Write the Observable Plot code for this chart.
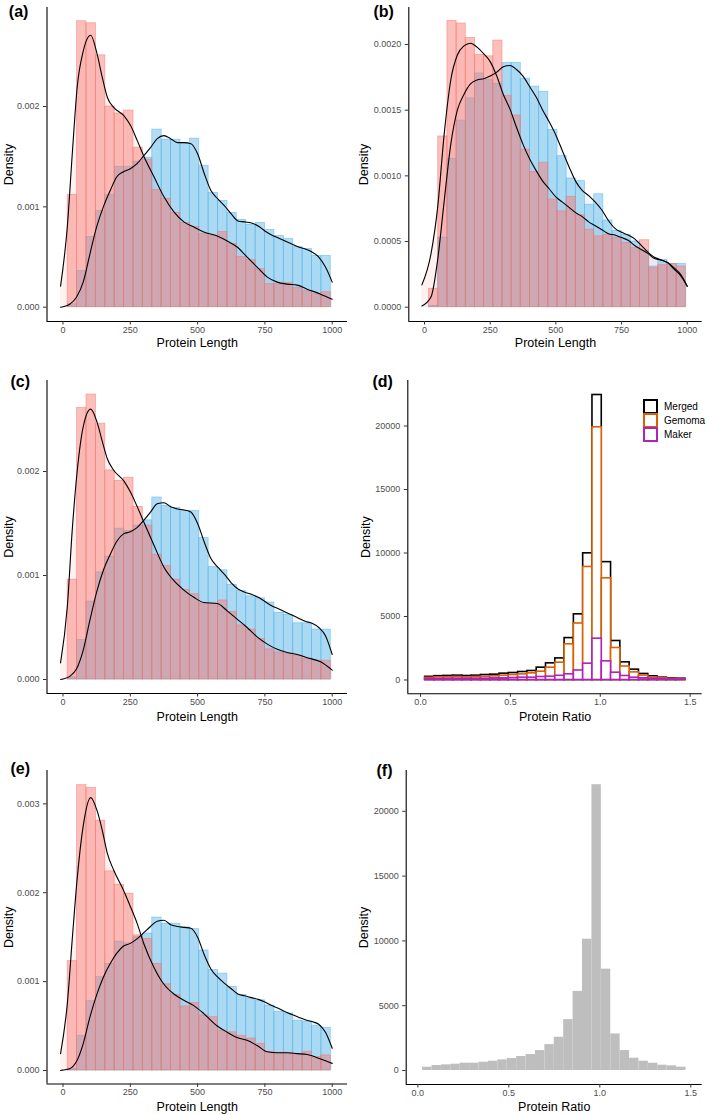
<!DOCTYPE html>
<html><head><meta charset="utf-8">
<script src="https://cdn.jsdelivr.net/npm/d3@7"></script>
<script src="https://cdn.jsdelivr.net/npm/@observablehq/plot@0.6"></script>
<style>
body{margin:0;background:#fff;}
#root{position:relative;width:709px;height:1115px;overflow:hidden;font-family:"Liberation Sans",Arial,Helvetica,sans-serif;}
.panel{position:absolute;}
.legend{position:absolute;left:643px;top:399px;font-size:10px;color:#000;}
.legend .item{display:flex;align-items:center;height:14.3px;}
.legend .key{width:11px;height:11px;border:2px solid;background:#fff;margin-right:6px;box-sizing:content-box;}
</style></head><body><div id="root"></div>
<script>
// ---------- data ----------
const lengthTicks = [0, 250, 500, 750, 1000];
const ratioTicks = [0, 0.5, 1.0, 1.5];
const countTicks = [0, 5000, 10000, 15000, 20000];
const lengthBinStart = 17.5, lengthBinWidth = 34.9;
const ratioBinStart = 0.026, ratioBinWidth = 0.0517;

const redCurveX = [-9,16,35,53,75,103,127,146,165,189,226,251,276,301,338,375,412,449,486,523,573,610,647,684,721,759,796,833,870,907,957,1000];
const blueCurveX = [-9,0,25,50,75,100,125,150,175,200,225,250,275,300,325,350,375,400,425,450,475,500,525,550,575,600,625,650,675,700,725,750,775,800,825,850,875,900,925,950,975,1000];
const bCurveX = [-10,25,50,75,100,125,150,175,200,225,250,275,300,325,350,375,400,425,450,475,500,525,550,575,600,625,650,675,700,725,750,775,800,825,850,875,900,925,950,975,1000];

// panel (a)
const aRed  = [0.00112,0.00285,0.00283,0.00251,0.00200,0.00193,0.00196,0.00159,0.00147,0.00117,0.00108,0.00094,0.00084,0.00080,0.00073,0.00071,0.00075,0.00063,0.00050,0.00047,0.00038,0.00023,0.00023,0.00024,0.00019,0.00016,0.00013,0.00015];
const aBlue = [0.00003,0.00036,0.00070,0.00096,0.00112,0.00140,0.00140,0.00145,0.00149,0.00177,0.00167,0.00167,0.00163,0.00168,0.00141,0.00114,0.00106,0.00094,0.00087,0.00082,0.00084,0.00077,0.00071,0.00068,0.00060,0.00058,0.00051,0.00051];
const aRedCurve  = [0.00021,0.00080,0.00155,0.00220,0.00255,0.00271,0.00252,0.00229,0.00209,0.00199,0.00191,0.00181,0.00166,0.00150,0.00130,0.00110,0.00095,0.00085,0.00080,0.00075,0.00071,0.00066,0.00060,0.00050,0.00040,0.00030,0.00025,0.00023,0.00022,0.00018,0.00013,0.00008];
const aBlueCurve = [0,0.000005,0.00003,0.00010,0.00025,0.00053,0.00080,0.00100,0.00116,0.00130,0.00135,0.00138,0.00143,0.00151,0.00159,0.00168,0.00171,0.00168,0.00164,0.00164,0.00163,0.00153,0.00133,0.00116,0.00108,0.00101,0.00093,0.00086,0.00085,0.00084,0.00081,0.00076,0.00072,0.00069,0.00066,0.00063,0.00060,0.00058,0.00055,0.00050,0.00040,0.00025];

// panel (b)
const bRed  = [0.00014,0.00130,0.00218,0.00216,0.00205,0.00192,0.00191,0.00203,0.00161,0.00146,0.00120,0.00103,0.00110,0.00082,0.00073,0.00084,0.00070,0.00059,0.00054,0.00055,0.00053,0.00049,0.00045,0.00051,0.00030,0.00032,0.00033,0.00031];
const bBlue = [0.00001,0.00053,0.00113,0.00142,0.00159,0.00178,0.00173,0.00170,0.00186,0.00186,0.00174,0.00168,0.00164,0.00135,0.00115,0.00098,0.00096,0.00078,0.00086,0.00066,0.00058,0.00055,0.00050,0.00043,0.00031,0.00036,0.00033,0.00033];
const bRedCurve  = [0.00017,0.00041,0.00076,0.00132,0.00173,0.00192,0.00199,0.00201,0.00198,0.00193,0.00187,0.00176,0.00162,0.00151,0.00137,0.00124,0.00113,0.00104,0.00096,0.00090,0.00084,0.00080,0.00076,0.00072,0.00069,0.00065,0.00062,0.00059,0.00056,0.00055,0.00053,0.00051,0.00047,0.00044,0.00041,0.00037,0.00036,0.00034,0.00029,0.00024,0.00016];
const bBlueCurve = [0.00001,0.00008,0.00036,0.00081,0.00124,0.00150,0.00162,0.00170,0.00173,0.00174,0.00176,0.00179,0.00183,0.00184,0.00181,0.00176,0.00168,0.00160,0.00150,0.00141,0.00131,0.00119,0.00107,0.00096,0.00089,0.00085,0.00080,0.00074,0.00066,0.00060,0.00057,0.00055,0.00052,0.00047,0.00042,0.00038,0.00036,0.00034,0.00030,0.00025,0.00016];

// panel (c)
const cRed  = [0.00096,0.00261,0.00274,0.00246,0.00201,0.00191,0.00194,0.00166,0.00148,0.00120,0.00109,0.00096,0.00086,0.00082,0.00073,0.00073,0.00076,0.00065,0.00052,0.00048,0.00039,0.00029,0.00026,0.00025,0.00023,0.00020,0.00018,0.00018];
const cBlue = [0.00002,0.00038,0.00075,0.00103,0.00118,0.00145,0.00143,0.00148,0.00153,0.00175,0.00167,0.00165,0.00162,0.00162,0.00136,0.00108,0.00105,0.00091,0.00085,0.00080,0.00078,0.00074,0.00064,0.00062,0.00054,0.00054,0.00048,0.00048];
const cRedCurve  = [0.00016,0.00070,0.00146,0.00201,0.00243,0.00260,0.00247,0.00229,0.00212,0.00201,0.00191,0.00180,0.00166,0.00151,0.00129,0.00108,0.00095,0.00086,0.00079,0.00074,0.00073,0.00066,0.00058,0.00050,0.00041,0.00034,0.00029,0.00026,0.00024,0.00021,0.00017,0.00009];
const cBlueCurve = [0,0.000005,0.00003,0.00010,0.00028,0.00057,0.00084,0.00105,0.00120,0.00133,0.00140,0.00142,0.00146,0.00153,0.00161,0.00169,0.00170,0.00166,0.00164,0.00163,0.00161,0.00150,0.00132,0.00116,0.00108,0.00101,0.00093,0.00087,0.00084,0.00082,0.00079,0.00075,0.00071,0.00068,0.00065,0.00062,0.00059,0.00056,0.00054,0.00050,0.00042,0.00024];

// panel (e)
const eRed  = [0.00123,0.00321,0.00318,0.00281,0.00224,0.00209,0.00199,0.00152,0.00148,0.00120,0.00097,0.00085,0.00072,0.00076,0.00062,0.00060,0.00045,0.00043,0.00039,0.00036,0.00030,0.00021,0.00020,0.00020,0.00018,0.00021,0.00015,0.00017];
const eBlue = [0.00002,0.00039,0.00078,0.00105,0.00120,0.00145,0.00143,0.00150,0.00154,0.00172,0.00165,0.00165,0.00161,0.00159,0.00135,0.00113,0.00109,0.00094,0.00085,0.00081,0.00079,0.00073,0.00066,0.00064,0.00056,0.00055,0.00050,0.00048];
const eRedCurve  = [0.00019,0.00075,0.00150,0.00217,0.00275,0.00307,0.00292,0.00270,0.00244,0.00225,0.00202,0.00184,0.00165,0.00142,0.00116,0.00097,0.00086,0.00079,0.00073,0.00064,0.00050,0.00043,0.00037,0.00034,0.00028,0.00021,0.00020,0.00020,0.00019,0.00018,0.00013,0.00008];
const eBlueCurve = [0,0.000005,0.00002,0.00010,0.00030,0.00060,0.00085,0.00105,0.00120,0.00132,0.00140,0.00143,0.00148,0.00155,0.00162,0.00168,0.00169,0.00164,0.00162,0.00161,0.00160,0.00150,0.00130,0.00114,0.00105,0.00098,0.00092,0.00086,0.00084,0.00082,0.00080,0.00077,0.00073,0.00070,0.00066,0.00063,0.00060,0.00057,0.00055,0.00052,0.00043,0.00025];

// panel (d)
const dSeries = ["Merged", "Gemoma", "Maker"];
const dMerged = [250,300,320,341,315,341,394,420,499,551,630,709,971,1312,1700,3300,5170,9974,22441,9280,3071,1390,815,475,290,184,131,105];
const dGemoma = [170,210,220,236,210,236,262,289,341,394,446,525,656,971,1363,2810,4450,8900,19900,8005,2520,1063,600,350,205,131,100,80];
const dMaker  = [80,90,100,105,105,105,105,131,131,157,184,184,236,262,330,448,750,1286,3253,1470,576,315,181,134,110,70,55,45];

// panel (f)
const fRatio = [256,385,436,487,564,564,641,718,821,923,1077,1231,1538,2000,2564,3923,6103,10128,22051,7821,2821,1538,949,718,564,410,359,256];

// ---------- styles ----------
const FONT = "'Liberation Sans', Arial, Helvetica, sans-serif";
const RED = "#F8766D", BLUE = "#56B4E9";
const SERIES_COLORS = ["#000000", "#D95F02", "#B022B8"];
const TICK_TEXT = "#4D4D4D";

const root = document.getElementById("root");

function bins(start, width, n) {
  return d3.range(n).map(i => ({x1: start + i * width, x2: start + (i + 1) * width}));
}

function frameMarks(cfg) {
  return [
    Plot.ruleY([cfg.yDomain[0]], {stroke: "black", strokeWidth: 1.1}),
    Plot.ruleX([cfg.xDomain[0]], {stroke: "black", strokeWidth: 1.1}),
    Plot.axisX({ticks: cfg.xTicks, tickFormat: cfg.xFormat, tickSize: 3.5, tickPadding: 1.5,
      stroke: "#333", fill: TICK_TEXT, fontSize: 9, label: null}),
    Plot.axisY({ticks: cfg.yTicks, tickFormat: cfg.yFormat, tickSize: 3.5, tickPadding: 4,
      stroke: "#333", fill: TICK_TEXT, fontSize: 9, label: null}),
    Plot.text([cfg.xTitle], {text: d => d, frameAnchor: "bottom", dy: cfg.titleDy, fontSize: 12.5,
      fill: "black", lineAnchor: "middle"}),
    Plot.text(["Density"], {text: d => d, frameAnchor: "left", dx: cfg.densityDx, rotate: -90,
      fontSize: 12.5, fill: "black", lineAnchor: "middle", textAnchor: "middle"}),
    Plot.text([cfg.tag], {text: d => d, frameAnchor: "top-left", dx: cfg.tagDx, dy: cfg.tagDy,
      fontSize: 16, fontWeight: "bold", fill: "black", textAnchor: "start", lineAnchor: "middle"})
  ];
}

function place(svg, left, top) {
  const div = document.createElement("div");
  div.className = "panel";
  div.style.left = left + "px";
  div.style.top = top + "px";
  div.appendChild(svg);
  root.appendChild(div);
}

function lengthPanel(cfg) {
  const b = bins(lengthBinStart, lengthBinWidth, cfg.red.length)
    .map((d, i) => ({...d, red: cfg.red[i], blue: cfg.blue[i]}));
  const rc = cfg.redCurveX.map((x, i) => ({x, y: cfg.redCurveY[i]}));
  const bc = cfg.blueCurveX.map((x, i) => ({x, y: cfg.blueCurveY[i]}));
  const svg = Plot.plot({
    width: cfg.width, height: cfg.height,
    marginLeft: cfg.ml, marginRight: cfg.mr, marginTop: cfg.mt, marginBottom: cfg.mb,
    style: {fontFamily: FONT, fontSize: "9px", background: "white", overflow: "visible"},
    x: {domain: cfg.xDomain},
    y: {domain: cfg.yDomain},
    marks: [
      Plot.areaY(bc, {x: "x", y1: 0, y2: "y", fill: BLUE, fillOpacity: 0.1, curve: "monotone-x"}),
      Plot.areaY(rc, {x: "x", y1: 0, y2: "y", fill: RED, fillOpacity: 0.1, curve: "monotone-x"}),
      Plot.rect(b, {x1: "x1", x2: "x2", y1: 0, y2: "blue", fill: BLUE, fillOpacity: 0.45,
        stroke: BLUE, strokeOpacity: 0.6, strokeWidth: 0.8}),
      Plot.rect(b, {x1: "x1", x2: "x2", y1: 0, y2: "red", fill: RED, fillOpacity: 0.46,
        stroke: RED, strokeOpacity: 0.6, strokeWidth: 0.8}),
      Plot.lineY(bc, {x: "x", y: "y", stroke: "black", strokeWidth: 1.1, curve: "monotone-x"}),
      Plot.lineY(rc, {x: "x", y: "y", stroke: "black", strokeWidth: 1.1, curve: "monotone-x"}),
      ...frameMarks({...cfg, xTicks: lengthTicks, xFormat: d3.format("d"), xTitle: "Protein Length"})
    ]
  });
  place(svg, cfg.left, cfg.top);
}

// (a)
lengthPanel({tag: "(a)", left: 0, top: 0, width: 354, height: 350, ml: 46.5, mr: 7, mt: 7, mb: 29,
  xDomain: [-59.4, 1056.8], yDomain: [-0.0001425, 0.002987], yTicks: [0, 0.001, 0.002], yFormat: d3.format(".3f"),
  red: aRed, blue: aBlue, redCurveX, redCurveY: aRedCurve, blueCurveX, blueCurveY: aBlueCurve,
  titleDy: 21.5, densityDx: -38.5, tagDx: -38.2, tagDy: 4.5});
// (b)
lengthPanel({tag: "(b)", left: 354, top: 0, width: 355, height: 350, ml: 54.3, mr: 7.3, mt: 7, mb: 29,
  xDomain: [-59.8, 1057], yDomain: [-0.0001089, 0.002282], yTicks: [0, 0.0005, 0.001, 0.0015, 0.002], yFormat: d3.format(".4f"),
  red: bRed, blue: bBlue, redCurveX: bCurveX, redCurveY: bRedCurve, blueCurveX: bCurveX, blueCurveY: bBlueCurve,
  titleDy: 21.5, densityDx: -44.8, tagDx: -35.3, tagDy: 4.7});
// (c)
lengthPanel({tag: "(c)", left: 0, top: 350, width: 354, height: 380, ml: 46.5, mr: 7, mt: 30, mb: 37,
  xDomain: [-59.4, 1056.8], yDomain: [-0.0001346, 0.002875], yTicks: [0, 0.001, 0.002], yFormat: d3.format(".3f"),
  red: cRed, blue: cBlue, redCurveX, redCurveY: cRedCurve, blueCurveX, blueCurveY: cBlueCurve,
  titleDy: 23.5, densityDx: -38.5, tagDx: -36.5, tagDy: 1.7});
// (e)
lengthPanel({tag: "(e)", left: 0, top: 730, width: 354, height: 385, ml: 46.5, mr: 7, mt: 40, mb: 31.5,
  xDomain: [-59.4, 1056.8], yDomain: [-0.000152, 0.003375], yTicks: [0, 0.001, 0.002, 0.003], yFormat: d3.format(".3f"),
  red: eRed, blue: eBlue, redCurveX, redCurveY: eRedCurve, blueCurveX, blueCurveY: eBlueCurve,
  titleDy: 23.2, densityDx: -38.5, tagDx: -36.5, tagDy: -2});

// (d)
{
  const b = bins(ratioBinStart, ratioBinWidth, dMerged.length)
    .map((d, i) => ({...d, merged: dMerged[i], gemoma: dGemoma[i], maker: dMaker[i]}));
  const cfg = {tag: "(d)", xDomain: [-0.0706, 1.567], yDomain: [-1087, 23583], yTicks: countTicks,
    yFormat: d3.format("d"), xTicks: ratioTicks, xFormat: d3.format(".1f"), xTitle: "Protein Ratio",
    titleDy: 23.2, densityDx: -42.3, tagDx: -35.3, tagDy: 1.7};
  const svg = Plot.plot({
    width: 355, height: 380, marginLeft: 53.3, marginRight: 7.3, marginTop: 30, marginBottom: 36.7,
    style: {fontFamily: FONT, fontSize: "9px", background: "white", overflow: "visible"},
    x: {domain: cfg.xDomain}, y: {domain: cfg.yDomain},
    marks: [
      Plot.rect(b, {x1: "x1", x2: "x2", y1: 0, y2: "merged", fill: "white", stroke: SERIES_COLORS[0], strokeWidth: 1.6}),
      Plot.rect(b, {x1: "x1", x2: "x2", y1: 0, y2: "gemoma", fill: "white", stroke: SERIES_COLORS[1], strokeWidth: 1.6}),
      Plot.rect(b, {x1: "x1", x2: "x2", y1: 0, y2: "maker", fill: "white", stroke: SERIES_COLORS[2], strokeWidth: 1.6}),
      ...frameMarks(cfg)
    ]
  });
  place(svg, 354, 350);
  const lg = document.createElement("div");
  lg.className = "legend";
  dSeries.forEach((name, i) => {
    const item = document.createElement("div");
    item.className = "item";
    const key = document.createElement("span");
    key.className = "key";
    key.style.borderColor = SERIES_COLORS[i];
    const lab = document.createElement("span");
    lab.textContent = name;
    item.appendChild(key); item.appendChild(lab);
    lg.appendChild(item);
  });
  root.appendChild(lg);
}

// (f)
{
  const b = bins(ratioBinStart, ratioBinWidth, fRatio.length).map((d, i) => ({...d, v: fRatio[i]}));
  const cfg = {tag: "(f)", xDomain: [-0.064, 1.5626], yDomain: [-1080, 23148], yTicks: countTicks,
    yFormat: d3.format("d"), xTicks: ratioTicks, xFormat: d3.format(".1f"), xTitle: "Protein Ratio",
    titleDy: 22.7, densityDx: -42.2, tagDx: -29.7, tagDy: 0};
  const svg = Plot.plot({
    width: 355, height: 385, marginLeft: 51.7, marginRight: 7.3, marginTop: 40, marginBottom: 31,
    style: {fontFamily: FONT, fontSize: "9px", background: "white", overflow: "visible"},
    x: {domain: cfg.xDomain}, y: {domain: cfg.yDomain},
    marks: [
      Plot.rect(b, {x1: "x1", x2: "x2", y1: 0, y2: "v", fill: "#BEBEBE"}),
      ...frameMarks(cfg)
    ]
  });
  place(svg, 354, 730);
}
</script></body></html>
